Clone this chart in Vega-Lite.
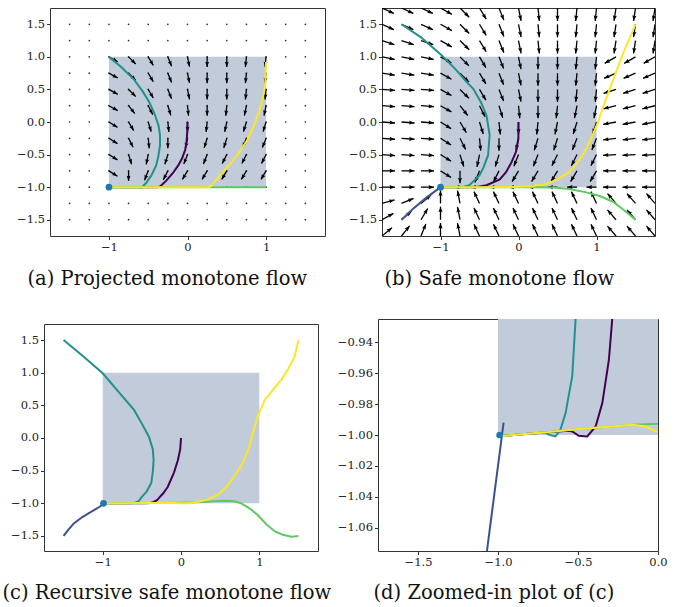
{
"$schema": "https://vega.github.io/schema/vega-lite/v6.json",
"background": "white",
"padding": {"left": 1, "top": 7, "right": 2, "bottom": 2},
"datasets": {
"dotsA": [
{"y":1.5,"x":[-1.5,-1.25,-1,-0.75,-0.5,-0.25,0,0.25,0.5,0.75,1,1.25,1.5]},
{"y":1.25,"x":[-1.5,-1.25,-1,-0.75,-0.5,-0.25,0,0.25,0.5,0.75,1,1.25,1.5]},
{"y":1,"x":[-1.5,-1.25,-1,-0.75,-0.5,-0.25,0,0.25,0.5,0.75,1,1.25,1.5]},
{"y":0.75,"x":[-1.5,-1.25,-1,-0.75,-0.5,-0.25,0,0.25,0.5,0.75,1,1.25,1.5]},
{"y":0.5,"x":[-1.5,-1.25,-1,-0.75,-0.5,-0.25,0,0.25,0.5,0.75,1,1.25,1.5]},
{"y":0.25,"x":[-1.5,-1.25,-1,-0.75,-0.5,-0.25,0,0.25,0.5,0.75,1,1.25,1.5]},
{"y":0,"x":[-1.5,-1.25,-1,-0.75,-0.5,-0.25,0,0.25,0.5,0.75,1,1.25,1.5]},
{"y":-0.25,"x":[-1.5,-1.25,-1,-0.75,-0.5,-0.25,0,0.25,0.5,0.75,1,1.25,1.5]},
{"y":-0.5,"x":[-1.5,-1.25,-1,-0.75,-0.5,-0.25,0,0.25,0.5,0.75,1,1.25,1.5]},
{"y":-0.75,"x":[-1.5,-1.25,-1,-0.75,-0.5,-0.25,0,0.25,0.5,0.75,1,1.25,1.5]},
{"y":-1,"x":[-1.5,-1.25,-1,-0.75,-0.5,-0.25,0,0.25,0.5,0.75,1,1.25,1.5]},
{"y":-1.25,"x":[-1.5,-1.25,-1,-0.75,-0.5,-0.25,0,0.25,0.5,0.75,1,1.25,1.5]},
{"y":-1.5,"x":[-1.5,-1.25,-1,-0.75,-0.5,-0.25,0,0.25,0.5,0.75,1,1.25,1.5]}
],
"arrowsA": [
{"y":1,"x":[-1,-0.75,-0.5,-0.25,0,0.25,0.5,0.75,1],"x2":[-0.888,-0.659,-0.435,-0.203,0.026,0.25,0.5,0.737,0.987],"y2":[0.925,0.891,0.868,0.857,0.849,0.846,0.846,0.846,0.846]},
{"y":0.75,"x":[-1,-0.75,-0.5,-0.25,0,0.25,0.5,0.75,1],"x2":[-0.888,-0.659,-0.435,-0.203,0.026,0.25,0.5,0.737,0.987],"y2":[0.675,0.641,0.618,0.607,0.599,0.596,0.596,0.596,0.596]},
{"y":0.5,"x":[-1,-0.75,-0.5,-0.25,0,0.25,0.5,0.75,1],"x2":[-0.888,-0.659,-0.435,-0.203,0.026,0.25,0.5,0.737,0.987],"y2":[0.425,0.391,0.368,0.357,0.349,0.346,0.346,0.346,0.346]},
{"y":0.25,"x":[-1,-0.75,-0.5,-0.25,0,0.25,0.5,0.75,1],"x2":[-0.888,-0.671,-0.442,-0.212,0.013,0.25,0.487,0.724,0.974],"y2":[0.175,0.13,0.113,0.102,0.096,0.096,0.096,0.099,0.099]},
{"y":0,"x":[-1,-0.75,-0.5,-0.25,0,0.25,0.5,0.75,1],"x2":[-0.891,-0.685,-0.462,-0.237,0,0.237,0.474,0.712,0.962],"y2":[-0.082,-0.132,-0.148,-0.154,-0.154,-0.154,-0.151,-0.148,-0.148]},
{"y":-0.25,"x":[-1,-0.75,-0.5,-0.25,0,0.25,0.5,0.75,1],"x2":[-0.891,-0.692,-0.487,-0.25,-0.026,0.212,0.462,0.703,0.953],"y2":[-0.332,-0.387,-0.404,-0.404,-0.401,-0.398,-0.398,-0.393,-0.393]},
{"y":-0.5,"x":[-1,-0.75,-0.5,-0.25,0,0.25,0.5,0.75,1],"x2":[-0.891,-0.712,-0.526,-0.288,-0.047,0.203,0.442,0.692,0.942],"y2":[-0.582,-0.648,-0.651,-0.648,-0.643,-0.643,-0.637,-0.637,-0.637]},
{"y":-0.75,"x":[-1,-0.75,-0.5,-0.25,0,0.25,0.5,0.75,1],"x2":[-0.891,-0.75,-0.547,-0.308,-0.065,0.185,0.435,0.685,0.935],"y2":[-0.832,-0.904,-0.893,-0.887,-0.882,-0.882,-0.882,-0.882,-0.882]}
],
"arrowsB": [
{"y":1.75,"x":[-1.75,-1.5,-1.25,-1,-0.75,-0.5,-0.25,0,0.25,0.5,0.75,1,1.25,1.5,1.75],"x2":[-1.598,-1.348,-1.098,-0.854,-0.632,-0.414,-0.188,0.033,0.267,0.5,0.733,0.983,1.225,1.475,1.725],"y2":[1.667,1.667,1.667,1.653,1.609,1.578,1.564,1.554,1.551,1.55,1.551,1.551,1.552,1.552,1.552]},
{"y":1.5,"x":[-1.75,-1.5,-1.25,-1,-0.75,-0.5,-0.25,0,0.25,0.5,0.75,1,1.25,1.5,1.75],"x2":[-1.598,-1.348,-1.098,-0.854,-0.632,-0.414,-0.188,0.033,0.267,0.5,0.733,0.983,1.225,1.475,1.725],"y2":[1.417,1.417,1.417,1.403,1.359,1.328,1.314,1.304,1.301,1.3,1.301,1.301,1.302,1.302,1.302]},
{"y":1.25,"x":[-1.75,-1.5,-1.25,-1,-0.75,-0.5,-0.25,0,0.25,0.5,0.75,1,1.25,1.5,1.75],"x2":[-1.592,-1.342,-1.092,-0.854,-0.632,-0.414,-0.188,0.033,0.267,0.5,0.733,0.983,1.225,1.475,1.725],"y2":[1.187,1.187,1.187,1.153,1.109,1.078,1.064,1.054,1.051,1.05,1.051,1.051,1.052,1.052,1.052]},
{"y":1,"x":[-1.75,-1.5,-1.25,-1,-0.75,-0.5,-0.25,0,0.25,0.5,0.75,1,1.25,1.5,1.75],"x2":[-1.587,-1.337,-1.087,-0.86,-0.636,-0.418,-0.191,0.032,0.25,0.5,0.734,0.984,1.105,1.355,1.605],"y2":[0.96,0.96,0.96,0.906,0.864,0.835,0.821,0.811,0.808,0.808,0.808,0.808,0.9,0.9,0.9]},
{"y":0.75,"x":[-1.75,-1.5,-1.25,-1,-0.75,-0.5,-0.25,0,0.25,0.5,0.75,1,1.25,1.5,1.75],"x2":[-1.585,-1.335,-1.085,-0.86,-0.636,-0.418,-0.191,0.032,0.25,0.5,0.734,0.984,1.097,1.347,1.597],"y2":[0.719,0.719,0.719,0.656,0.614,0.585,0.571,0.561,0.558,0.558,0.558,0.558,0.67,0.67,0.67]},
{"y":0.5,"x":[-1.75,-1.5,-1.25,-1,-0.75,-0.5,-0.25,0,0.25,0.5,0.75,1,1.25,1.5,1.75],"x2":[-1.583,-1.333,-1.083,-0.86,-0.636,-0.418,-0.191,0.032,0.25,0.5,0.734,0.984,1.091,1.341,1.591],"y2":[0.485,0.485,0.485,0.406,0.364,0.335,0.321,0.311,0.308,0.308,0.308,0.308,0.44,0.44,0.44]},
{"y":0.25,"x":[-1.75,-1.5,-1.25,-1,-0.75,-0.5,-0.25,0,0.25,0.5,0.75,1,1.25,1.5,1.75],"x2":[-1.583,-1.333,-1.083,-0.86,-0.651,-0.428,-0.202,0.016,0.25,0.484,0.718,0.968,1.088,1.338,1.588],"y2":[0.235,0.235,0.235,0.156,0.1,0.079,0.065,0.058,0.058,0.058,0.061,0.061,0.202,0.202,0.202]},
{"y":0,"x":[-1.75,-1.5,-1.25,-1,-0.75,-0.5,-0.25,0,0.25,0.5,0.75,1,1.25,1.5,1.75],"x2":[-1.583,-1.333,-1.083,-0.864,-0.668,-0.452,-0.234,0,0.234,0.468,0.702,0.952,1.086,1.336,1.586],"y2":[-0.015,-0.015,-0.015,-0.102,-0.165,-0.185,-0.192,-0.192,-0.192,-0.189,-0.185,-0.185,-0.035,-0.035,-0.035]},
{"y":-0.25,"x":[-1.75,-1.5,-1.25,-1,-0.75,-0.5,-0.25,0,0.25,0.5,0.75,1,1.25,1.5,1.75],"x2":[-1.583,-1.333,-1.083,-0.864,-0.678,-0.484,-0.25,-0.032,0.202,0.452,0.691,0.941,1.085,1.335,1.585],"y2":[-0.265,-0.265,-0.265,-0.352,-0.421,-0.442,-0.442,-0.439,-0.435,-0.435,-0.429,-0.429,-0.273,-0.273,-0.273]},
{"y":-0.5,"x":[-1.75,-1.5,-1.25,-1,-0.75,-0.5,-0.25,0,0.25,0.5,0.75,1,1.25,1.5,1.75],"x2":[-1.583,-1.333,-1.083,-0.864,-0.702,-0.532,-0.298,-0.059,0.191,0.428,0.678,0.928,1.083,1.333,1.583],"y2":[-0.515,-0.515,-0.515,-0.602,-0.685,-0.689,-0.685,-0.679,-0.679,-0.671,-0.671,-0.671,-0.512,-0.512,-0.512]},
{"y":-0.75,"x":[-1.75,-1.5,-1.25,-1,-0.75,-0.5,-0.25,0,0.25,0.5,0.75,1,1.25,1.5,1.75],"x2":[-1.583,-1.333,-1.083,-0.864,-0.75,-0.559,-0.322,-0.082,0.168,0.418,0.668,0.918,1.083,1.333,1.583],"y2":[-0.75,-0.75,-0.75,-0.852,-0.942,-0.929,-0.921,-0.915,-0.915,-0.915,-0.915,-0.915,-0.75,-0.75,-0.75]},
{"y":-1,"x":[-1.75,-1.5,-1.25,-1,-0.75,-0.5,-0.25,0,0.25,0.5,0.75,1,1.25,1.5,1.75],"x2":[-1.583,-1.333,-1.083,-1,-0.827,-0.615,-0.378,-0.128,0.122,0.372,0.622,0.872,1.083,1.333,1.583],"y2":[-1,-1,-1,-1,-1,-1,-1,-1,-1,-1,-1,-1,-1,-1,-1]},
{"y":-1.25,"x":[-1.75,-1.5,-1.25,-1,-0.75,-0.5,-0.25,0,0.25,0.5,0.75,1,1.25,1.5,1.75],"x2":[-1.589,-1.346,-1.122,-1,-0.782,-0.571,-0.321,-0.071,0.179,0.429,0.679,0.929,1.141,1.391,1.641],"y2":[-1.196,-1.173,-1.122,-1.05,-1.054,-1.069,-1.069,-1.069,-1.069,-1.069,-1.069,-1.069,-1.099,-1.099,-1.099]},
{"y":-1.5,"x":[-1.75,-1.5,-1.25,-1,-0.75,-0.5,-0.25,0,0.25,0.5,0.75,1,1.25,1.5,1.75],"x2":[-1.604,-1.372,-1.164,-1,-0.782,-0.571,-0.321,-0.071,0.179,0.429,0.679,0.929,1.141,1.391,1.641],"y2":[-1.403,-1.372,-1.328,-1.3,-1.304,-1.319,-1.319,-1.319,-1.319,-1.319,-1.319,-1.319,-1.349,-1.349,-1.349]},
{"y":-1.75,"x":[-1.75,-1.5,-1.25,-1,-0.75,-0.5,-0.25,0,0.25,0.5,0.75,1,1.25,1.5,1.75],"x2":[-1.622,-1.396,-1.188,-1,-0.782,-0.571,-0.321,-0.071,0.179,0.429,0.679,0.929,1.141,1.391,1.641],"y2":[-1.622,-1.594,-1.564,-1.55,-1.554,-1.569,-1.569,-1.569,-1.569,-1.569,-1.569,-1.569,-1.599,-1.599,-1.599]}
],
"trajA": [
{"t":"purple","x":[0,-0.003,-0.012,-0.03,-0.07,-0.12,-0.19,-0.27,-0.35,-0.38,-1],"y":[0,-0.15,-0.3,-0.43,-0.56,-0.67,-0.79,-0.9,-0.99,-1,-1]},
{"t":"teal","x":[-1,-0.84,-0.68,-0.57,-0.49,-0.42,-0.37,-0.35,-0.35,-0.37,-0.4,-0.46,-0.53,-0.58,-1],"y":[1,0.84,0.65,0.47,0.31,0.13,-0.05,-0.2,-0.36,-0.52,-0.67,-0.82,-0.94,-1,-1]},
{"t":"green","x":[1,-1],"y":[-1,-1]},
{"t":"yellow","x":[1,0.99,0.96,0.91,0.84,0.76,0.66,0.56,0.45,0.37,0.3,0.27,-1],"y":[0.92,0.57,0.38,0.15,-0.07,-0.28,-0.46,-0.62,-0.77,-0.88,-0.98,-1,-1]}
],
"trajB": [
{"t":"purple","x":[0,-0.002,-0.03,-0.09,-0.16,-0.24,-0.41,-0.55,-1],"y":[0,-0.26,-0.45,-0.62,-0.77,-0.88,-0.97,-1,-1]},
{"t":"blue","x":[-1.5,-1.35,-1.2,-1],"y":[-1.5,-1.33,-1.18,-1]},
{"t":"teal","x":[-1.5,-1.25,-0.99,-0.8,-0.67,-0.58,-0.48,-0.41,-0.37,-0.39,-0.45,-0.5,-0.63,-0.72,-1],"y":[1.5,1.3,1.03,0.8,0.62,0.51,0.3,0.1,-0.2,-0.51,-0.7,-0.82,-0.97,-1,-1]},
{"t":"green","x":[1.5,1.35,1.22,1.05,0.87,0.65,0.45,0.2,-1],"y":[-1.5,-1.35,-1.23,-1.14,-1.08,-1.03,-1.005,-1,-1]},
{"t":"yellow","x":[1.5,1.43,1.35,1.26,1.17,1.09,1.02,0.95,0.87,0.77,0.65,0.5,0.36,0.18,0,-0.5,-1],"y":[1.5,1.3,1.08,0.8,0.51,0.25,0,-0.2,-0.41,-0.6,-0.77,-0.88,-0.95,-0.985,-0.995,-1,-1]}
],
"trajC": [
{"t":"purple","x":[0,-0.01,-0.04,-0.09,-0.17,-0.23,-0.286,-0.307,-0.348,-0.39,-0.442,-0.495,-0.536,-0.56,-0.705,-0.85,-0.975],"y":[0,-0.17,-0.34,-0.53,-0.75,-0.85,-0.925,-0.9515,-0.9794,-0.9945,-1.0009,-1.0005,-0.9977,-0.9973,-0.9984,-0.9995,-1.0006]},
{"t":"blue","x":[-1.5,-1.43,-1.37,-1.26,-1.15,-1.069,-0.965],"y":[-1.5,-1.39,-1.31,-1.21,-1.13,-1.075,-0.992]},
{"t":"teal","x":[-1.5,-1.25,-1.0,-0.8,-0.6,-0.5,-0.41,-0.36,-0.35,-0.36,-0.38,-0.44,-0.5,-0.515,-0.536,-0.578,-0.61,-0.641,-0.683,-0.705,-0.85,-0.975],"y":[1.5,1.25,0.99,0.71,0.43,0.22,0.02,-0.17,-0.34,-0.52,-0.69,-0.82,-0.9,-0.925,-0.962,-0.986,-0.9966,-1.0009,-0.9998,-0.9984,-0.9995,-1.0006]},
{"t":"green","x":[1.5,1.41,1.3,1.2,1.09,0.98,0.88,0.77,0.68,0.6,0.47,0.34,0.2,0.1,0,-0.16,-0.286,-0.495,-0.704,-0.85,-0.975],"y":[-1.5,-1.51,-1.48,-1.43,-1.32,-1.18,-1.08,-1.0,-0.97,-0.96,-0.965,-0.975,-0.985,-0.99,-0.9927,-0.9934,-0.9945,-0.9961,-0.9983,-0.9995,-1.0006]},
{"t":"yellow","x":[1.5,1.45,1.37,1.28,1.17,1.07,0.98,0.92,0.86,0.78,0.68,0.58,0.47,0.35,0.21,0.1,0.05,0,-0.077,-0.16,-0.286,-0.495,-0.704,-0.85,-0.975],"y":[1.5,1.24,1.06,0.89,0.73,0.58,0.33,0.08,-0.18,-0.4,-0.59,-0.75,-0.87,-0.94,-0.98,-1.0,-1.0,-0.9983,-0.9945,-0.9934,-0.9945,-0.9961,-0.9983,-0.9995,-1.0006]}
]
},
"vconcat": [
{"hconcat": [
{"width": 1, "height": 1, "data": {"values": [{"k": 0}]}, "mark": {"type": "point", "opacity": 0, "size": 0}, "encoding": {}, "view": {"stroke": null}},
{"hconcat": [
{"width": 275, "height": 228,
 "encoding": {
  "x": {"field": "x", "type": "quantitative", "scale": {"domain": [-1.75, 1.75], "nice": false, "zero": false}, "axis": {"values": [-1, 0, 1], "format": ".0f", "title": "(a) Projected monotone flow", "titleX": -23, "titleY": 48}},
  "y": {"field": "y", "type": "quantitative", "scale": {"domain": [-1.75, 1.75], "nice": false, "zero": false}, "axis": {"values": [-1.5, -1, -0.5, 0, 0.5, 1, 1.5], "format": ".1f", "title": null}}
 },
 "layer": [
  {"data": {"values": [{"x": -1, "x2": 1, "y": -1, "y2": 1}]}, "mark": {"type": "rect", "color": "#c1cbd9"}, "encoding": {"x2": {"field": "x2"}, "y2": {"field": "y2"}}},
  {"data": {"name": "dotsA"}, "transform": [{"flatten": ["x"]}], "mark": {"type": "point", "filled": true, "size": 3, "color": "#000", "opacity": 0.8}, "encoding": {}},
  {"data": {"name": "arrowsA"}, "transform": [{"flatten": ["x", "x2", "y2"]}], "mark": {"type": "rule", "strokeWidth": 1.3, "color": "#000"}, "encoding": {"x2": {"field": "x2"}, "y2": {"field": "y2"}}},
  {"data": {"name": "arrowsA"}, "transform": [{"flatten": ["x", "x2", "y2"]}, {"filter": "datum.x2 != datum.x || datum.y2 != datum.y"}, {"calculate": "atan2((datum.x2-datum.x)*78,(datum.y2-datum.y)*65)*180/PI", "as": "ang"}], "mark": {"type": "point", "shape": "M0,0L-0.37,1L0,0.85L0.37,1Z", "filled": true, "size": 110, "color": "#000", "strokeWidth": 0, "opacity": 1}, "encoding": {"x": {"field": "x2", "type": "quantitative"}, "y": {"field": "y2", "type": "quantitative"}, "angle": {"field": "ang", "type": "quantitative", "scale": null}}},
  {"data": {"name": "trajA"}, "transform": [{"flatten": ["x", "y"]}], "mark": {"type": "line", "strokeWidth": 2, "clip": true}, "encoding": {"color": {"field": "t", "type": "nominal", "scale": {"domain": ["purple", "blue", "teal", "green", "yellow"], "range": ["#440154", "#3b528b", "#21918c", "#5ec962", "#fde725"]}, "legend": null}, "order": {"value": null}}},
  {"data": {"values": [{"x": -1, "y": -1}]}, "mark": {"type": "point", "filled": true, "size": 45, "color": "#1f77b4", "opacity": 1}, "encoding": {}}
 ]
},
{"width": 273, "height": 228,
 "encoding": {
  "x": {"field": "x", "type": "quantitative", "scale": {"domain": [-1.75, 1.75], "nice": false, "zero": false}, "axis": {"values": [-1, 0, 1], "format": ".0f", "title": "(b) Safe monotone flow", "titleX": 2, "titleY": 48}},
  "y": {"field": "y", "type": "quantitative", "scale": {"domain": [-1.75, 1.75], "nice": false, "zero": false}, "axis": {"values": [-1.5, -1, -0.5, 0, 0.5, 1, 1.5], "format": ".1f", "title": null}}
 },
 "layer": [
  {"data": {"values": [{"x": -1, "x2": 1, "y": -1, "y2": 1}]}, "mark": {"type": "rect", "color": "#c1cbd9"}, "encoding": {"x2": {"field": "x2"}, "y2": {"field": "y2"}}},
  {"data": {"name": "arrowsB"}, "transform": [{"flatten": ["x", "x2", "y2"]}], "mark": {"type": "rule", "strokeWidth": 1.3, "color": "#000", "clip": true}, "encoding": {"x2": {"field": "x2"}, "y2": {"field": "y2"}}},
  {"data": {"name": "arrowsB"}, "transform": [{"flatten": ["x", "x2", "y2"]}, {"filter": "datum.x2 != datum.x || datum.y2 != datum.y"}, {"calculate": "atan2((datum.x2-datum.x)*78,(datum.y2-datum.y)*65)*180/PI", "as": "ang"}], "mark": {"type": "point", "shape": "M0,0L-0.37,1L0,0.85L0.37,1Z", "filled": true, "size": 121, "color": "#000", "strokeWidth": 0, "opacity": 1, "clip": true}, "encoding": {"x": {"field": "x2", "type": "quantitative"}, "y": {"field": "y2", "type": "quantitative"}, "angle": {"field": "ang", "type": "quantitative", "scale": null}}},
  {"data": {"name": "trajB"}, "transform": [{"flatten": ["x", "y"]}], "mark": {"type": "line", "strokeWidth": 2, "clip": true}, "encoding": {"color": {"field": "t", "type": "nominal", "scale": {"domain": ["purple", "blue", "teal", "green", "yellow"], "range": ["#440154", "#3b528b", "#21918c", "#5ec962", "#fde725"]}, "legend": null}, "order": {"value": null}}},
  {"data": {"values": [{"x": -1, "y": -1}]}, "mark": {"type": "point", "filled": true, "size": 45, "color": "#1f77b4", "opacity": 1}, "encoding": {}}
 ]
}
], "spacing": 57, "bounds": "flush"}
], "spacing": 5, "bounds": "flush"},
{"hconcat": [
{"vconcat": [
{"width": 1, "height": 1, "data": {"values": [{"k": 0}]}, "mark": {"type": "point", "opacity": 0, "size": 0}, "encoding": {}, "view": {"stroke": null}},
{"width": 274, "height": 227,
 "encoding": {
  "x": {"field": "x", "type": "quantitative", "scale": {"domain": [-1.75, 1.75], "nice": false, "zero": false}, "axis": {"values": [-1, 0, 1], "format": ".0f", "title": "(c) Recursive safe monotone flow", "titleX": -42, "titleY": 47}},
  "y": {"field": "y", "type": "quantitative", "scale": {"domain": [-1.73, 1.745], "nice": false, "zero": false}, "axis": {"values": [-1.5, -1, -0.5, 0, 0.5, 1, 1.5], "format": ".1f", "title": null}}
 },
 "layer": [
  {"data": {"values": [{"x": -1, "x2": 1, "y": -1, "y2": 1}]}, "mark": {"type": "rect", "color": "#c1cbd9"}, "encoding": {"x2": {"field": "x2"}, "y2": {"field": "y2"}}},
  {"data": {"name": "trajC"}, "transform": [{"flatten": ["x", "y"]}], "mark": {"type": "line", "strokeWidth": 2, "clip": true}, "encoding": {"color": {"field": "t", "type": "nominal", "scale": {"domain": ["purple", "blue", "teal", "green", "yellow"], "range": ["#440154", "#3b528b", "#21918c", "#5ec962", "#fde725"]}, "legend": null}, "order": {"value": null}}},
  {"data": {"values": [{"x": -0.99, "y": -1}]}, "mark": {"type": "point", "filled": true, "size": 45, "color": "#1f77b4", "opacity": 1}, "encoding": {}}
 ]
}
], "spacing": 4, "bounds": "flush"},
{"width": 280, "height": 232,
 "encoding": {
  "x": {"field": "x", "type": "quantitative", "scale": {"domain": [-1.75, 0], "nice": false, "zero": false}, "axis": {"values": [-1.5, -1, -0.5, 0], "format": ".1f", "title": "(d) Zoomed-in plot of (c)", "titleX": -5, "titleY": 47}},
  "y": {"field": "y", "type": "quantitative", "scale": {"domain": [-1.075, -0.925], "nice": false, "zero": false}, "axis": {"values": [-1.06, -1.04, -1.02, -1, -0.98, -0.96, -0.94], "format": ".2f", "title": null}}
 },
 "layer": [
  {"data": {"values": [{"x": -1, "x2": 1, "y": -1, "y2": 1}]}, "mark": {"type": "rect", "color": "#c1cbd9", "clip": true}, "encoding": {"x2": {"field": "x2"}, "y2": {"field": "y2"}}},
  {"data": {"name": "trajC"}, "transform": [{"flatten": ["x", "y"]}], "mark": {"type": "line", "strokeWidth": 2, "clip": true}, "encoding": {"color": {"field": "t", "type": "nominal", "scale": {"domain": ["purple", "blue", "teal", "green", "yellow"], "range": ["#440154", "#3b528b", "#21918c", "#5ec962", "#fde725"]}, "legend": null}, "order": {"value": null}}},
  {"data": {"values": [{"x": -0.99, "y": -1}]}, "mark": {"type": "point", "filled": true, "size": 45, "color": "#1f77b4", "opacity": 1, "clip": true}, "encoding": {}}
 ]
}
], "spacing": 4}
],
"spacing": 30,
"config": {
 "view": {"stroke": "#333333", "strokeWidth": 1},
 "axis": {"domain": false, "grid": false, "tickColor": "#333333", "tickSize": 3.5, "labelFont": "DejaVu Serif", "labelFontSize": 11.5, "labelColor": "#222222", "labelPadding": 2, "labelFlush": false, "labelOverlap": false, "titleFont": "DejaVu Serif", "titleFontSize": 19.5, "titleFontWeight": "normal", "titleColor": "#111111", "titleAlign": "left", "titleBaseline": "alphabetic", "titlePadding": 0}
}
}
